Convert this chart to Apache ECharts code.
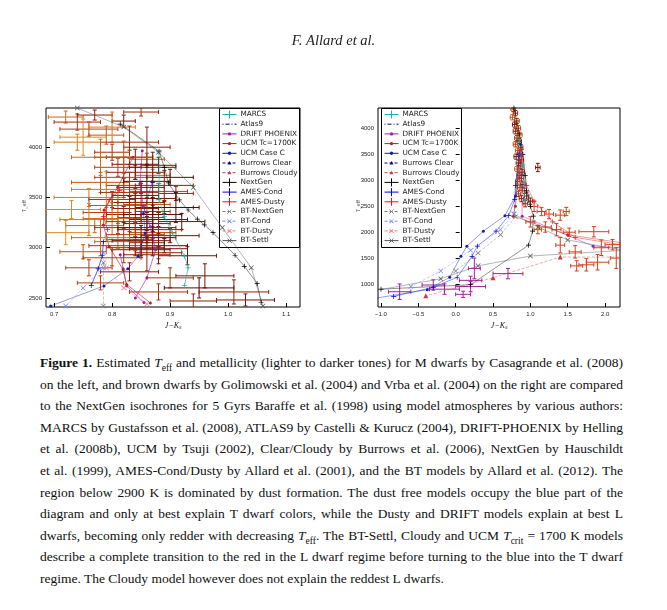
<!DOCTYPE html>
<html>
<head>
<meta charset="utf-8">
<script src="https://cdn.jsdelivr.net/npm/echarts@6/dist/echarts.min.js"></script>
<style>
  body { margin: 0; background: #fff; width: 667px; height: 610px; position: relative; overflow: hidden; }
  #chart { position: absolute; left: 0; top: 0; width: 667px; height: 340px; }
  #caption { position: absolute; left: 40px; top: 352px; width: 583px; font-family: "Liberation Serif", "DejaVu Serif", serif;
    font-size: 13.5px; line-height: 21.6px; color: #111; }
  #caption div { text-align: justify; text-align-last: justify; white-space: nowrap; height: 21.6px; }
  #caption div.last { text-align-last: left; }
  #caption sub { font-size: 9.5px; line-height: 0; }
</style>
</head>
<body>
<div id="chart"></div>
<div id="caption">
<div><b>Figure 1.</b> Estimated <i>T</i><sub>eff</sub> and metallicity (lighter to darker tones) for M dwarfs by Casagrande et al. (2008)</div>
<div>on the left, and brown dwarfs by Golimowski et al. (2004) and Vrba et al. (2004) on the right are compared</div>
<div>to the NextGen isochrones for 5 Gyrs Baraffe et al. (1998) using model atmospheres by various authors:</div>
<div>MARCS by Gustafsson et al. (2008), ATLAS9 by Castelli &amp; Kurucz (2004), DRIFT-PHOENIX by Helling</div>
<div>et al. (2008b), UCM by Tsuji (2002), Clear/Cloudy by Burrows et al. (2006), NextGen by Hauschildt</div>
<div>et al. (1999), AMES-Cond/Dusty by Allard et al. (2001), and the BT models by Allard et al. (2012). The</div>
<div>region below 2900 K is dominated by dust formation. The dust free models occupy the blue part of the</div>
<div>diagram and only at best explain T dwarf colors, while the Dusty and DRIFT models explain at best L</div>
<div>dwarfs, becoming only redder with decreasing <i>T</i><sub>eff</sub>. The BT-Settl, Cloudy and UCM <i>T</i><sub>crit</sub> = 1700 K models</div>
<div>describe a complete transition to the red in the L dwarf regime before turning to the blue into the T dwarf</div>
<div class="last">regime. The Cloudy model however does not explain the reddest L dwarfs.</div>
</div>
<script>
// observed stars: [J-Ks, Teff, errJK, errTeff, [M/H]]
var mDwarfs = [
  [0.72,4300,0.03,60,-0.2],[0.74,4250,0.04,80,0.1],[0.77,4320,0.03,50,0.2],[0.76,4180,0.05,70,0],
  [0.79,4120,0.03,90,-0.1],[0.82,4260,0.02,60,0.3],[0.85,4350,0.03,40,0.1],[0.74,4050,0.04,80,-0.3],
  [0.80,3950,0.03,80,0.1],[0.83,3900,0.04,70,0.2],[0.86,3880,0.03,60,-0.1],[0.88,3820,0.03,80,0.3],
  [0.81,3800,0.04,90,0],[0.84,3750,0.05,70,0.2],[0.87,3720,0.03,60,-0.2],[0.90,3700,0.04,80,0.4],
  [0.78,3650,0.05,100,-0.1],[0.82,3620,0.03,70,0.1],[0.85,3600,0.04,60,0.3],[0.88,3560,0.05,80,0],
  [0.91,3540,0.03,70,0.2],[0.76,3500,0.06,90,-0.3],[0.80,3480,0.04,80,0.1],[0.83,3450,0.03,60,0.2],
  [0.86,3430,0.04,70,-0.1],[0.89,3400,0.05,60,0.3],[0.73,3380,0.05,90,-0.4],[0.79,3350,0.04,70,0],
  [0.82,3330,0.03,80,0.2],[0.85,3300,0.04,60,0.1],[0.88,3280,0.05,70,0.4],[0.92,3260,0.04,80,0.3],
  [0.77,3220,0.05,70,-0.2],[0.81,3200,0.04,60,0.1],[0.84,3180,0.03,70,0.2],[0.87,3150,0.04,60,0],
  [0.90,3120,0.05,70,0.3],[0.83,3080,0.04,80,0.1],[0.86,3050,0.03,60,0.2],[0.89,3020,0.04,70,0.4],
  [0.85,2980,0.05,80,0.3],[0.88,2950,0.04,60,0.2],[0.75,2960,0.04,70,-0.1],[0.80,2900,0.05,80,0],
  [0.93,2920,0.05,90,0.3],[0.76,2800,0.04,80,0],[0.83,2760,0.05,90,0.2],[0.90,2700,0.04,100,0.1],
  [0.96,2720,0.05,120,0.3],[0.95,2600,0.06,100,0.4],[1.01,2560,0.06,120,0.2],[0.88,2560,0.05,80,0.1],
  [1.03,2480,0.05,60,0.3],[0.94,2470,0.04,70,0.2],[0.78,2650,0.04,70,0],[0.84,3520,0.04,70,0.3],
  [0.87,3360,0.03,60,0.1],[0.86,3240,0.04,70,0.3],[0.84,3000,0.05,80,0.2],[0.81,3060,0.04,70,-0.2],
  [0.80,4200,0.04,150,-0.3],[0.75,4100,0.04,180,-0.4],[0.83,4050,0.05,160,0.1],[0.86,4000,0.04,200,0.2],
  [0.78,3900,0.05,180,-0.2],[0.84,3830,0.04,150,0.3],[0.82,3700,0.05,200,0],[0.86,3660,0.04,170,0.4],
  [0.89,3620,0.05,150,0.2],[0.79,3580,0.06,180,-0.3],[0.83,3550,0.05,200,0.1],[0.87,3490,0.04,160,0.3],
  [0.81,3420,0.05,180,-0.1],[0.84,3390,0.04,150,0.2],[0.87,3330,0.05,170,0.4],[0.80,3290,0.05,160,-0.2],
  [0.83,3260,0.04,190,0.1],[0.86,3200,0.05,150,0.3],[0.88,3180,0.04,170,0.2],[0.84,3130,0.05,160,0],
  [0.87,3100,0.04,180,0.4],[0.85,3070,0.05,150,0.3],[0.82,3020,0.06,170,0.1],[0.88,2990,0.05,150,0.3],
  [0.86,2930,0.04,160,0.2],[0.78,3100,0.05,180,-0.2],[0.72,3150,0.04,120,-0.4],[0.91,3400,0.04,150,0.4],
  [0.76,3280,0.05,160,-0.3],[0.85,3450,0.04,190,0.2],[0.82,3900,0.05,160,-0.1],[0.87,3800,0.04,150,0.3]
];
var mDwarfsRight = [
  [0.77,4380,0.03,50,0],[0.80,4300,0.03,50,0.2],[0.76,4220,0.03,50,-0.1],[0.82,4150,0.03,50,0.1],
  [0.79,4080,0.03,50,0.3],[0.84,4010,0.03,50,0],[0.80,3950,0.03,50,0.2],[0.86,3880,0.03,50,-0.2],
  [0.82,3820,0.03,50,0.1],[0.85,3760,0.03,50,0.3],[0.80,3700,0.03,50,0],[0.87,3640,0.03,50,0.2],
  [0.83,3580,0.03,50,-0.1],[0.86,3520,0.03,50,0.1],[0.81,3460,0.03,50,0.3],[0.88,3400,0.03,50,0],
  [0.84,3340,0.03,50,0.2],[0.87,3280,0.03,50,0.1],[0.82,3220,0.03,50,-0.2],[0.89,3160,0.03,50,0.3],
  [0.85,3100,0.03,50,0.1],[0.88,3040,0.03,50,0.2],[0.83,2980,0.03,50,0],[0.90,2920,0.03,50,0.3],
  [0.86,2860,0.03,50,0.1],[0.92,2800,0.03,50,0.2],[0.84,2740,0.03,50,0],[0.95,2700,0.03,60,0.3],
  [0.88,2650,0.03,60,0.2],[1.00,2600,0.03,60,0.3],[0.93,2550,0.03,60,0.2],[1.10,3250,0.03,80,0.3]
];
var lDwarfs = [
  [1.05,2500,0.05,100],[1.15,2400,0.06,80],[1.25,2350,0.06,90],[1.40,2330,0.06,100],[1.48,2400,0.04,80],
  [1.20,2100,0.08,100],[1.35,2050,0.06,120],[1.52,2000,0.08,80],[1.85,2010,0.2,100],[1.40,1750,0.06,150],
  [1.60,1620,0.08,120],[1.95,1700,0.1,150],[2.10,1760,0.1,100],[1.62,1350,0.08,100],[1.75,1370,0.1,120],
  [1.90,1420,0.15,150],[2.15,1500,0.08,200],[1.00,2200,0.06,100],[1.10,2050,0.05,80]
];
var tDwarfs = [
  [0.25,1300,0.08,200],[-0.75,850,0.15,150],[-0.15,900,0.2,100],[0.2,1070,0.15,80],
  [0.1,800,0.1,60],[-0.3,980,0.15,100],[0.7,1200,0.2,100],[0.2,950,0.2,100]
];

// tick labels
var leftXTicks = [0.7, 0.8, 0.9, 1.0, 1.1];
var leftYTicks = [2500, 3000, 3500, 4000];
var rightXTicks = [-1.0, -0.5, 0.0, 0.5, 1.0, 1.5, 2.0];
var rightYTicks = [1000, 1500, 2000, 2500, 3000, 3500, 4000];

// model isochrones, left panel
var leftNextGen = [[0.814,4230],[0.881,3960],[0.89,3800],[0.897,3645],[0.916,3475],[0.931,3375],[0.947,3285],[0.959,3227],[0.974,3150],[1.012,2925],[1.028,2815],[1.05,2645],[1.057,2455]];
var leftMarcs = [[0.881,3950],[0.881,3640],[0.881,3475],[0.89,3310],[0.904,3145],[0.925,2915],[0.931,2800],[0.925,2625]];
var leftDrift = [[0.852,3965],[0.848,3640],[0.854,3410],[0.866,3210],[0.875,2980],[0.86,2700],[0.84,2500]];
var leftDrift2 = [[0.814,2930],[0.819,2790],[0.825,2620],[0.855,2455]];
var leftUcmTc = [[0.836,3900],[0.81,3605],[0.786,3375],[0.785,3225],[0.795,3010],[0.819,2780],[0.825,2635],[0.866,2450]];
var leftUcmC = [[0.869,3655],[0.854,3340],[0.857,3145],[0.845,2915],[0.827,2790],[0.786,2620],[0.694,2420]];
var leftCond = [[0.785,3060],[0.783,2920],[0.776,2790],[0.764,2625]];
var leftDusty = [[0.813,3570],[0.795,3475],[0.785,3310],[0.792,3180]];
var leftSettl = [[0.74,4390],[0.82,4200],[0.88,3950],[0.94,3600],[0.99,3200],[1.04,2800],[1.06,2420]];
var leftBTDusty = [[0.79,3100],[0.79,2800],[0.82,2600],[0.86,2440]];
var leftBTCond = [[0.785,2950],[0.785,2800],[0.75,2600],[0.72,2420]];
var leftBTNextGen = [[0.785,2850],[0.785,2420]];

// model isochrones, right panel
var rightNextGen = [[0.78,4400],[0.85,3900],[0.9,3500],[0.93,3100],[0.95,2800],[1.0,2500],[1.04,2310],[1.03,2020],[0.975,1750],[0.2,985],[-1.0,900]];
var rightMarcs = [[0.85,3800],[0.9,3300],[0.92,2950],[0.92,2620]];
var rightCond = [[0.85,3500],[0.8,2900],[0.79,2630],[0.71,2320],[0.54,2020],[0.29,1730],[0.22,1535],[0.02,1130],[-0.3,935],[-0.83,760]];
var rightUcmC = [[0.87,3700],[0.8,2700],[0.66,2320],[0.37,2020],[0.15,1730],[0.07,1535],[-0.08,1130],[-0.38,890],[-1.05,730]];
var rightDusty = [[0.88,3600],[0.95,2900],[1.05,2600],[1.3,2200],[1.6,1900],[2.25,1750]];
var rightDrift = [[0.88,3500],[0.89,2310],[1.84,1730],[2.25,1700]];
var rightUcmTc = [[0.86,3400],[0.8,2500],[0.77,2310],[1.5,1950],[2.25,1790]];
var rightSettl = [[0.85,3500],[0.78,2350],[1.1,2100],[1.5,1850],[2.25,1650],[1.0,1540],[0.3,1350],[-0.2,1100],[-1.05,880]];
var rightCloudy = [[2.25,1520],[1.4,1520],[0.5,1120],[-0.4,770]];
var rightBTCond = [[0.78,2350],[0.6,2050],[0.2,1650],[-0.2,1250],[-0.6,950]];
var rightBTNextGen = [[0.8,2300],[0.6,1950],[0.3,1600],[0.0,1250]];

var legendNames = ['MARCS','Atlas9','DRIFT PHOENIX','UCM Tc=1700K','UCM Case C','Burrows Clear','Burrows Cloudy',
  'NextGen','AMES-Cond','AMES-Dusty','BT-NextGen','BT-Cond','BT-Dusty','BT-Settl'];

var PLUS = 'path://M4.3,0h1.4v10h-1.4zM0,4.3h10v1.4h-10z';
var CROSS = 'path://M0,1L1,0L10,9L9,10zM9,0L10,1L1,10L0,9z';
var styles = {
  'MARCS': { c: '#20b2aa', t: 'solid', s: PLUS },
  'Atlas9': { c: '#000080', t: [1, 2, 4, 2], s: 'none' },
  'DRIFT PHOENIX': { c: '#a020a0', t: 'solid', s: 'circle' },
  'UCM Tc=1700K': { c: '#b22222', t: 'solid', s: 'circle' },
  'UCM Case C': { c: '#1a1aaa', t: 'solid', s: 'circle' },
  'Burrows Clear': { c: '#000080', t: 'dashed', s: 'triangle' },
  'Burrows Cloudy': { c: '#c04040', t: 'dashed', s: 'triangle' },
  'NextGen': { c: '#000000', t: 'solid', s: PLUS },
  'AMES-Cond': { c: '#0000ee', t: 'solid', s: PLUS },
  'AMES-Dusty': { c: '#ee1111', t: 'solid', s: PLUS },
  'BT-NextGen': { c: '#777777', t: 'dashed', s: CROSS },
  'BT-Cond': { c: '#7788ff', t: 'dashed', s: CROSS },
  'BT-Dusty': { c: '#ff7777', t: 'dashed', s: CROSS },
  'BT-Settl': { c: '#555555', t: 'solid', s: CROSS }
};

var chart = echarts.init(document.getElementById('chart'));

function errorBars(data, g, fixedColor) {
  return {
    type: 'custom', xAxisIndex: g, yAxisIndex: g, data: data, z: 2, clip: true,
    encode: { x: 0, y: 1 },
    renderItem: function (params, api) {
      var x = api.value(0), y = api.value(1), dx = api.value(2), dy = api.value(3);
      var col = fixedColor || api.visual('color');
      var l = api.coord([x - dx, y]), r = api.coord([x + dx, y]);
      var t = api.coord([x, y + dy]), b = api.coord([x, y - dy]);
      var st = { stroke: col, lineWidth: 1 };
      return { type: 'group', children: [
        { type: 'line', shape: { x1: l[0], y1: l[1], x2: r[0], y2: r[1] }, style: st },
        { type: 'line', shape: { x1: t[0], y1: t[1], x2: b[0], y2: b[1] }, style: st },
        { type: 'line', shape: { x1: l[0], y1: l[1] - 2, x2: l[0], y2: l[1] + 2 }, style: st },
        { type: 'line', shape: { x1: r[0], y1: r[1] - 2, x2: r[0], y2: r[1] + 2 }, style: st },
        { type: 'line', shape: { x1: t[0] - 2, y1: t[1], x2: t[0] + 2, y2: t[1] }, style: st },
        { type: 'line', shape: { x1: b[0] - 2, y1: b[1], x2: b[0] + 2, y2: b[1] }, style: st }
      ] };
    }
  };
}

function model(name, data, g, light) {
  var s = styles[name];
  return {
    type: 'line', name: name, xAxisIndex: g, yAxisIndex: g, data: data, z: 3,
    symbol: s.s, symbolSize: s.s === 'circle' ? 3 : 5, showSymbol: true,
    lineStyle: { color: s.c, width: 0.8, type: s.t, opacity: light ? 0.55 : 0.8 },
    itemStyle: { color: s.c }
  };
}

function legendBox(left, top) {
  var kids = [{ type: 'rect', shape: { x: 0, y: 0, width: 80, height: 139 },
    style: { fill: '#fff', stroke: '#000', lineWidth: 1 } }];
  legendNames.forEach(function (n, i) {
    var s = styles[n], y = 6 + i * 9.7;
    kids.push({ type: 'line', shape: { x1: 3, y1: y, x2: 17, y2: y },
      style: { stroke: s.c, lineWidth: 1, lineDash: s.t === 'dashed' ? [3, 2] : (Array.isArray(s.t) ? s.t : null) } });
    if (s.s === 'circle') kids.push({ type: 'circle', shape: { cx: 10, cy: y, r: 1.7 }, style: { fill: s.c } });
    else if (s.s === 'triangle') kids.push({ type: 'polygon', shape: { points: [[10, y - 2], [12, y + 1.5], [8, y + 1.5]] }, style: { fill: s.c } });
    else if (s.s === PLUS) kids.push({ type: 'polyline', shape: { points: [[10, y - 4], [10, y + 4]] }, style: { stroke: s.c, lineWidth: 1 } });
    else if (s.s === CROSS) kids.push({ type: 'polyline', shape: { points: [[8, y - 2], [12, y + 2], [10, y], [8, y + 2], [12, y - 2]] }, style: { stroke: s.c, lineWidth: 0.8, fill: null } });
    kids.push({ type: 'text', x: 21, y: y, style: { text: n, fill: '#222', font: '7.3px "DejaVu Sans"', verticalAlign: 'middle' } });
  });
  return { type: 'group', left: left, top: top, z: 100, children: kids };
}

function xAxis(g, min, max, ticks) {
  return { type: 'value', gridIndex: g, min: min, max: max, splitLine: { show: false },
    axisLine: { show: false },
    axisTick: { inside: true, length: 4, customValues: ticks, lineStyle: { color: '#000' } },
    axisLabel: { fontSize: 6, color: '#222', margin: 4, customValues: ticks,
      formatter: function (v) { return v.toFixed(1).replace('-', '\u2212'); } },
    name: 'J\u2212K\u209B', nameLocation: 'middle', nameGap: 13,
    nameTextStyle: { fontSize: 8, fontStyle: 'italic', fontFamily: 'Liberation Serif', color: '#222' } };
}
function yAxis(g, min, max, ticks) {
  return { type: 'value', gridIndex: g, min: min, max: max, splitLine: { show: false },
    axisLine: { show: false },
    axisTick: { inside: true, length: 4, customValues: ticks, lineStyle: { color: '#000' } },
    axisLabel: { fontSize: 6, color: '#222', margin: 4, customValues: ticks,
      formatter: function (v) { return String(v); } } };
}

var option = {
  animation: false,
  graphic: [
    { type: 'text', left: 'center', top: 34, style: { text: 'F. Allard et al.', font: 'italic 14.5px "Liberation Serif"', fill: '#222' } },
    { type: 'text', left: 22, top: 200, rotation: Math.PI / 2, style: { text: 'T_eff', font: '5px "DejaVu Sans"', fill: '#444' } },
    { type: 'text', left: 356, top: 200, rotation: Math.PI / 2, style: { text: 'T_eff', font: '5px "DejaVu Sans"', fill: '#444' } },
    legendBox(219, 108),
    legendBox(381, 108)
  ],
  visualMap: { show: false, seriesIndex: [0, 1], dimension: 4, min: -0.4, max: 0.4,
    inRange: { color: ['#e08a20', '#c85a10', '#9e2a0c', '#5a0808'] } },
  grid: [
    { left: 46, top: 108, width: 254, height: 199, show: true, borderColor: '#000', borderWidth: 1 },
    { left: 378, top: 108, width: 242, height: 199, show: true, borderColor: '#000', borderWidth: 1 }
  ],
  xAxis: [xAxis(0, 0.686, 1.124, leftXTicks), xAxis(1, -1.04, 2.2, rightXTicks)],
  yAxis: [yAxis(0, 2410, 4390, leftYTicks), yAxis(1, 555, 4400, rightYTicks)],
  series: [
    errorBars(mDwarfs, 0),
    errorBars(mDwarfsRight, 1),
    errorBars(lDwarfs, 1, '#d2401a'),
    errorBars(tDwarfs, 1, '#a020a0'),
    model('NextGen', leftNextGen, 0, true),
    model('MARCS', leftMarcs, 0),
    model('DRIFT PHOENIX', leftDrift, 0),
    model('DRIFT PHOENIX', leftDrift2, 0),
    model('UCM Tc=1700K', leftUcmTc, 0),
    model('UCM Case C', leftUcmC, 0, true),
    model('AMES-Cond', leftCond, 0),
    model('AMES-Dusty', leftDusty, 0),
    model('BT-Settl', leftSettl, 0, true),
    model('BT-Dusty', leftBTDusty, 0, true),
    model('BT-Cond', leftBTCond, 0, true),
    model('BT-NextGen', leftBTNextGen, 0, true),
    model('NextGen', rightNextGen, 1, true),
    model('MARCS', rightMarcs, 1),
    model('AMES-Cond', rightCond, 1, true),
    model('UCM Case C', rightUcmC, 1, true),
    model('AMES-Dusty', rightDusty, 1, true),
    model('DRIFT PHOENIX', rightDrift, 1, true),
    model('UCM Tc=1700K', rightUcmTc, 1, true),
    model('BT-Settl', rightSettl, 1, true),
    model('Burrows Cloudy', rightCloudy, 1, true),
    model('BT-Cond', rightBTCond, 1, true),
    model('BT-NextGen', rightBTNextGen, 1, true)
  ]
};
chart.setOption(option);
</script>
</body>
</html>
